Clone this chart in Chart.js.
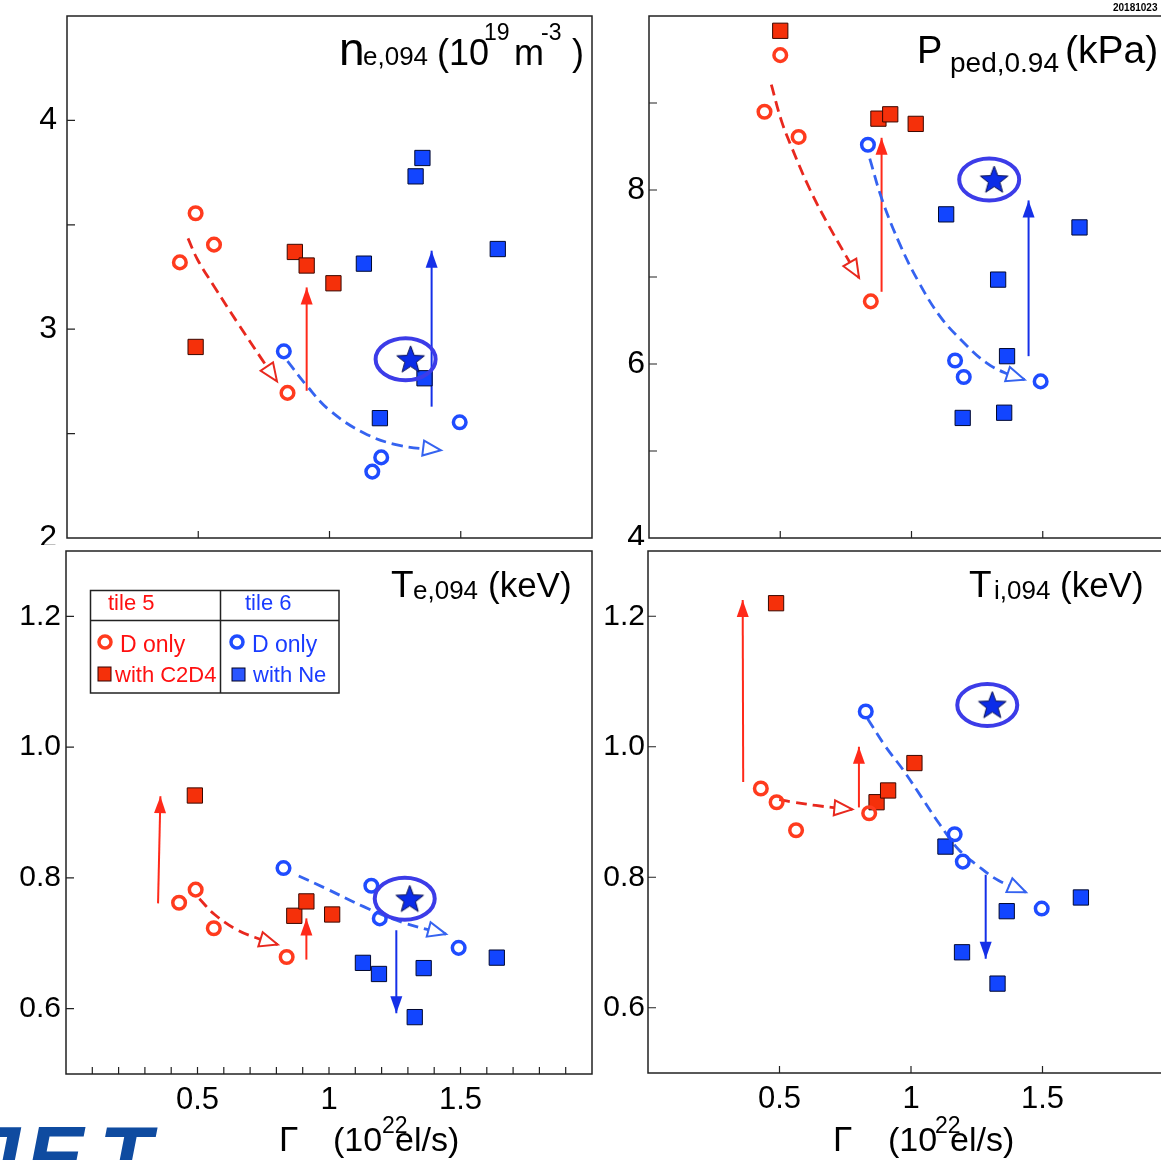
<!DOCTYPE html>
<html>
<head>
<meta charset="utf-8">
<script src="https://cdn.jsdelivr.net/npm/chart.js@4.4.0/dist/chart.umd.min.js"></script>
<style>
  html, body { margin: 0; padding: 0; background: #fff; overflow: hidden; }
  #wrap { position: relative; width: 1161px; height: 1160px; overflow: hidden; }
  canvas { position: absolute; }
</style>
</head>
<body>
<div id="wrap">
  <canvas id="pNe" width="600" height="545" style="left:0;top:0"></canvas>
  <canvas id="pP" width="600" height="545" style="left:590px;top:0"></canvas>
  <canvas id="pTe" width="600" height="615" style="left:0;top:545px"></canvas>
  <canvas id="pTi" width="600" height="615" style="left:590px;top:545px"></canvas>
</div>
<script>
// ---- n_e,094 (top left)
const neRedOpenX = [0.43, 0.49, 0.56, 0.84];
const neRedOpenY = [3.32, 3.555, 3.405, 2.695];
const neRedSqX = [0.49, 0.868, 0.913, 1.015];
const neRedSqY = [2.915, 3.37, 3.305, 3.22];
const neBlueOpenX = [0.826, 1.163, 1.197, 1.496];
const neBlueOpenY = [2.894, 2.318, 2.386, 2.554];
const neBlueSqX = [1.131, 1.328, 1.354, 1.641, 1.192, 1.362];
const neBlueSqY = [3.314, 3.732, 3.82, 3.384, 2.574, 2.765];
const neStar = [1.309, 2.856];
const neRedArrows = [[0.913, 2.705, 0.913, 3.2]];
const neBlueArrows = [[1.389, 2.629, 1.389, 3.376]];
const neRedPathX = [0.461, 0.497, 0.563, 0.65, 0.738, 0.80];
const neRedPathY = [3.435, 3.334, 3.2, 3.03, 2.864, 2.75];
const neBluePathX = [0.84, 0.913, 1.0, 1.131, 1.262, 1.425];
const neBluePathY = [2.847, 2.73, 2.612, 2.503, 2.445, 2.42];

// ---- P_ped,0.94 (top right)
const pRedOpenX = [0.44, 0.50, 0.57, 0.845];
const pRedOpenY = [8.90, 9.55, 8.61, 6.72];
const pRedSqX = [0.50, 0.874, 0.919, 1.016];
const pRedSqY = [9.83, 8.82, 8.87, 8.76];
const pBlueOpenX = [0.834, 1.166, 1.199, 1.492];
const pBlueOpenY = [8.52, 6.04, 5.85, 5.80];
const pBlueSqX = [1.132, 1.64, 1.33, 1.364, 1.195, 1.353];
const pBlueSqY = [7.72, 7.57, 6.97, 6.09, 5.38, 5.44];
const pStar = [1.315, 8.12];
const pRedArrows = [[0.886, 6.83, 0.886, 8.6]];
const pBlueArrows = [[1.446, 6.09, 1.446, 7.88]];
const pRedPathX = [0.466, 0.504, 0.545, 0.614, 0.683, 0.751, 0.80];
const pRedPathY = [9.21, 8.80, 8.48, 8.0, 7.6, 7.24, 6.99];
const pBluePathX = [0.841, 0.889, 0.958, 1.026, 1.108, 1.191, 1.287, 1.37, 1.431];
const pBluePathY = [8.36, 7.88, 7.36, 6.95, 6.55, 6.27, 6.01, 5.88, 5.82];

// ---- T_e,094 (bottom left)
const teRedOpenX = [0.43, 0.493, 0.562, 0.839];
const teRedOpenY = [0.762, 0.782, 0.723, 0.679];
const teRedSqX = [0.49, 0.868, 0.914, 1.012];
const teRedSqY = [0.926, 0.742, 0.764, 0.744];
const teBlueOpenX = [0.827, 1.161, 1.193, 1.493];
const teBlueOpenY = [0.815, 0.788, 0.738, 0.693];
const teBlueSqX = [1.129, 1.19, 1.36, 1.638, 1.326];
const teBlueSqY = [0.670, 0.653, 0.662, 0.678, 0.587];
const teStar = [1.307, 0.768];
const teRedArrows = [[0.35, 0.761, 0.359, 0.925], [0.914, 0.675, 0.914, 0.738]];
const teBlueArrows = [[1.256, 0.72, 1.256, 0.593]];
const teRedPathX = [0.507, 0.565, 0.653, 0.74, 0.805];
const teRedPathY = [0.768, 0.744, 0.72, 0.706, 0.698];
const teBluePathX = [0.885, 0.987, 1.132, 1.278, 1.445];
const teBluePathY = [0.803, 0.784, 0.756, 0.732, 0.714];

// ---- T_i,094 (bottom right)
const tiRedOpenX = [0.429, 0.489, 0.563, 0.841];
const tiRedOpenY = [0.936, 0.915, 0.872, 0.898];
const tiRedSqX = [0.487, 0.869, 0.913, 1.013];
const tiRedSqY = [1.22, 0.915, 0.933, 0.975];
const tiBlueOpenX = [0.828, 1.166, 1.197, 1.497];
const tiBlueOpenY = [1.054, 0.866, 0.824, 0.752];
const tiBlueSqX = [1.131, 1.194, 1.364, 1.646, 1.329];
const tiBlueSqY = [0.847, 0.685, 0.748, 0.769, 0.637];
const tiStar = [1.309, 1.064];
const tiRedArrows = [[0.362, 0.946, 0.36, 1.225], [0.802, 0.907, 0.802, 1.0]];
const tiBlueArrows = [[1.284, 0.804, 1.284, 0.675]];
const tiRedPathX = [0.499, 0.554, 0.638, 0.721, 0.777];
const tiRedPathY = [0.919, 0.915, 0.91, 0.906, 0.904];
const tiBluePathX = [0.835, 0.902, 0.971, 1.041, 1.111, 1.18, 1.25, 1.333, 1.437];
const tiBluePathY = [1.043, 1.001, 0.964, 0.922, 0.88, 0.843, 0.819, 0.795, 0.777];

// axis ticks and labels
const xRange = [0, 2];
const xLabelVals = [0.5, 1, 1.5];
const xMinorVals = [0.1, 0.2, 0.3, 0.4, 0.5, 0.6, 0.7, 0.8, 0.9, 1.0, 1.1, 1.2, 1.3, 1.4, 1.5, 1.6, 1.7, 1.8, 1.9];
const neYRange = [2, 4.5], neYLabels = [2, 3, 4], neYTicks = [2.5, 3, 3.5, 4];
const pYRange = [4, 10], pYLabels = [4, 6, 8], pYTicks = [5, 6, 7, 8, 9];
const tYRange = [0.5, 1.3], tYLabels = [0.6, 0.8, 1.0, 1.2];

const FONTE = "'Liberation Sans', Arial, sans-serif";
const VERMELHO = '#ff3b1e', VERM_QUAD = '#f5300a', AZUL = '#1f4cff', AZUL_QUAD = '#1245ff';
const VERM_SETA = '#ff2a1a', AZUL_SETA = '#1530e8', VERM_TRACO = '#e8281e', AZUL_TRACO = '#3563f0';

function pts(xs, ys) {
  return xs.map((x, i) => ({ x: x, y: ys[i] }));
}

// star marker as a small canvas
function criarEstrela(r) {
  const c = document.createElement('canvas');
  const s = Math.ceil(r * 2 + 4);
  c.width = s; c.height = s;
  const g = c.getContext('2d');
  g.beginPath();
  for (let i = 0; i < 10; i++) {
    const rad = i % 2 === 0 ? r : r * 0.42;
    const ang = -Math.PI / 2 + i * Math.PI / 5;
    const px = s / 2 + rad * Math.cos(ang), py = s / 2 + 1 + rad * Math.sin(ang);
    if (i === 0) g.moveTo(px, py); else g.lineTo(px, py);
  }
  g.closePath();
  g.fillStyle = '#0b2ce8'; g.fill();
  g.strokeStyle = '#0a1050'; g.lineWidth = 1; g.stroke();
  return c;
}
const estrela = criarEstrela(14.5);

// panel layout (chart area in canvas pixels) + texts
const paineis = {
  pNe: {
    area: { left: 67, top: 16, right: 592, bottom: 538 }, w: 600, h: 545,
    yRange: neYRange, yLabels: neYLabels, yTicks: neYTicks, xTicks: xLabelVals, xShow: false,
    yFont: 32, yPad: 10, fmt: v => String(v),
    redOpen: pts(neRedOpenX, neRedOpenY), redSq: pts(neRedSqX, neRedSqY),
    blueOpen: pts(neBlueOpenX, neBlueOpenY), blueSq: pts(neBlueSqX, neBlueSqY),
    star: neStar, redArrows: neRedArrows, blueArrows: neBlueArrows,
    redPath: pts(neRedPathX, neRedPathY), bluePath: pts(neBluePathX, neBluePathY),
    textos: [
      { t: 'n', x: 339, y: 65, s: 46 }, { t: 'e,094', x: 363, y: 65, s: 26 },
      { t: '(10', x: 437, y: 65, s: 36 }, { t: '19', x: 484, y: 40, s: 23 },
      { t: 'm', x: 514, y: 65, s: 36 }, { t: '-3', x: 541, y: 40, s: 23 },
      { t: ')', x: 572, y: 65, s: 36 }
    ]
  },
  pP: {
    area: { left: 59, top: 16, right: 584, bottom: 538 }, w: 600, h: 545,
    yRange: pYRange, yLabels: pYLabels, yTicks: pYTicks, xTicks: xLabelVals, xShow: false,
    yFont: 32, yPad: 4, fmt: v => String(v),
    redOpen: pts(pRedOpenX, pRedOpenY), redSq: pts(pRedSqX, pRedSqY),
    blueOpen: pts(pBlueOpenX, pBlueOpenY), blueSq: pts(pBlueSqX, pBlueSqY),
    star: pStar, redArrows: pRedArrows, blueArrows: pBlueArrows,
    redPath: pts(pRedPathX, pRedPathY), bluePath: pts(pBluePathX, pBluePathY),
    textos: [
      { t: 'P', x: 327, y: 63, s: 38 }, { t: 'ped,0.94', x: 360, y: 72, s: 28 },
      { t: '(kPa)', x: 475, y: 63, s: 39 },
      { t: '20181023', x: 523, y: 11, s: 10, b: true }
    ]
  },
  pTe: {
    area: { left: 66, top: 6, right: 592, bottom: 529 }, w: 600, h: 615,
    yRange: tYRange, yLabels: tYLabels, yTicks: tYLabels, xTicks: xMinorVals, xShow: true,
    yFont: 30, yPad: 5, fmt: v => v.toFixed(1), legenda: true,
    redOpen: pts(teRedOpenX, teRedOpenY), redSq: pts(teRedSqX, teRedSqY),
    blueOpen: pts(teBlueOpenX, teBlueOpenY), blueSq: pts(teBlueSqX, teBlueSqY),
    star: teStar, redArrows: teRedArrows, blueArrows: teBlueArrows,
    redPath: pts(teRedPathX, teRedPathY), bluePath: pts(teBluePathX, teBluePathY),
    textos: [
      { t: 'T', x: 391, y: 52, s: 37 }, { t: 'e,094', x: 413, y: 54, s: 26 },
      { t: '(keV)', x: 488, y: 52, s: 35 },
      { t: 'Γ', x: 279, y: 606, s: 35 }, { t: '(10', x: 333, y: 606, s: 34 },
      { t: '22', x: 382, y: 588, s: 23 }, { t: 'el/s)', x: 395, y: 606, s: 34 }
    ]
  },
  pTi: {
    area: { left: 58, top: 6, right: 584, bottom: 528 }, w: 600, h: 615,
    yRange: tYRange, yLabels: tYLabels, yTicks: tYLabels, xTicks: xLabelVals, xShow: true,
    yFont: 30, yPad: 3, fmt: v => v.toFixed(1),
    redOpen: pts(tiRedOpenX, tiRedOpenY), redSq: pts(tiRedSqX, tiRedSqY),
    blueOpen: pts(tiBlueOpenX, tiBlueOpenY), blueSq: pts(tiBlueSqX, tiBlueSqY),
    star: tiStar, redArrows: tiRedArrows, blueArrows: tiBlueArrows,
    redPath: pts(tiRedPathX, tiRedPathY), bluePath: pts(tiBluePathX, tiBluePathY),
    textos: [
      { t: 'T', x: 379, y: 52, s: 37 }, { t: 'i,094', x: 404, y: 54, s: 26 },
      { t: '(keV)', x: 470, y: 52, s: 35 },
      { t: 'Γ', x: 243, y: 606, s: 35 }, { t: '(10', x: 298, y: 606, s: 34 },
      { t: '22', x: 345, y: 588, s: 23 }, { t: 'el/s)', x: 360, y: 606, s: 34 }
    ]
  }
};

function ponta(ctx, x0, y0, x1, y1, len, half, cor, aberta) {
  const ang = Math.atan2(y1 - y0, x1 - x0);
  ctx.save();
  ctx.translate(x1, y1);
  ctx.rotate(ang);
  ctx.beginPath();
  ctx.moveTo(0, 0);
  ctx.lineTo(-len, -half);
  ctx.lineTo(-len, half);
  ctx.closePath();
  if (aberta) {
    ctx.fillStyle = '#fff'; ctx.fill();
    ctx.setLineDash([]); ctx.lineWidth = 2; ctx.strokeStyle = cor; ctx.stroke();
  } else {
    ctx.fillStyle = cor; ctx.fill();
  }
  ctx.restore();
}

function desenharLegenda(ctx) {
  ctx.strokeStyle = '#222'; ctx.lineWidth = 1.5;
  ctx.strokeRect(90.5, 45.5, 248.5, 102.5);
  ctx.beginPath();
  ctx.moveTo(90.5, 75.5); ctx.lineTo(339, 75.5);
  ctx.moveTo(220.5, 45.5); ctx.lineTo(220.5, 148);
  ctx.stroke();
  ctx.textBaseline = 'alphabetic';
  ctx.font = '22px ' + FONTE;
  ctx.fillStyle = '#ff1010'; ctx.fillText('tile 5', 108, 65);
  ctx.fillStyle = '#1a3cff'; ctx.fillText('tile 6', 245, 65);
  ctx.font = '23px ' + FONTE;
  ctx.fillStyle = '#ff1010'; ctx.fillText('D only', 120, 107);
  ctx.font = '22px ' + FONTE; ctx.fillText('with C2D4', 115, 137);
  ctx.fillStyle = '#1a3cff';
  ctx.font = '23px ' + FONTE; ctx.fillText('D only', 252, 107);
  ctx.font = '22px ' + FONTE; ctx.fillText('with Ne', 253, 137);
  // markers of the table
  ctx.lineWidth = 3.5;
  ctx.strokeStyle = VERMELHO; ctx.beginPath(); ctx.arc(105, 97, 6, 0, Math.PI * 2); ctx.stroke();
  ctx.strokeStyle = AZUL; ctx.beginPath(); ctx.arc(237, 97, 6, 0, Math.PI * 2); ctx.stroke();
  ctx.lineWidth = 1;
  ctx.fillStyle = VERM_QUAD; ctx.fillRect(98, 122, 13, 14);
  ctx.strokeStyle = '#300'; ctx.strokeRect(98, 122, 13, 14);
  ctx.fillStyle = '#2a55ff'; ctx.fillRect(232, 123, 13, 13);
  ctx.strokeStyle = '#002'; ctx.strokeRect(232, 123, 13, 13);
  // JET logo, cut by the page border
  ctx.fillStyle = '#0f4ba0';
  ctx.font = 'italic bold 86px ' + FONTE;
  ctx.fillText('J', -28, 641);
  ctx.fillText('E', 26, 641);
  ctx.fillText('T', 99, 641);
}

const decor = {
  id: 'decor',
  afterDatasetsDraw(chart) {
    const p = paineis[chart.canvas.id];
    const ctx = chart.ctx, xs = chart.scales.x, ys = chart.scales.y, a = chart.chartArea;
    const px = v => xs.getPixelForValue(v), py = v => ys.getPixelForValue(v);
    ctx.save();
    // arrow heads
    p.redArrows.forEach(r => ponta(ctx, px(r[0]), py(r[1]), px(r[2]), py(r[3]), 17, 6, VERM_SETA, false));
    p.blueArrows.forEach(r => ponta(ctx, px(r[0]), py(r[1]), px(r[2]), py(r[3]), 17, 6, AZUL_SETA, false));
    [[p.redPath, VERM_TRACO], [p.bluePath, AZUL_TRACO]].forEach(c => {
      const n = c[0].length;
      const q0 = c[0][n - 2], q1 = c[0][n - 1];
      ponta(ctx, px(q0.x), py(q0.y), px(q1.x), py(q1.y), 18, 7.5, c[1], true);
    });
    // ellipse round the star
    ctx.beginPath();
    ctx.ellipse(px(p.star[0]) - 5, py(p.star[1]), 30, 21, 0, 0, Math.PI * 2);
    ctx.lineWidth = 4; ctx.strokeStyle = '#3c3ce8'; ctx.stroke();
    // frame
    ctx.lineWidth = 1.5; ctx.strokeStyle = '#222';
    ctx.strokeRect(a.left, a.top, a.right - a.left, a.bottom - a.top);
    // inward ticks
    ctx.beginPath();
    p.yTicks.forEach(v => { ctx.moveTo(a.left, py(v)); ctx.lineTo(a.left + 8, py(v)); });
    p.xTicks.forEach(v => { ctx.moveTo(px(v), a.bottom); ctx.lineTo(px(v), a.bottom - 7); });
    ctx.lineWidth = 1.2; ctx.stroke();
    // titles
    ctx.fillStyle = '#000'; ctx.textBaseline = 'alphabetic';
    p.textos.forEach(r => {
      ctx.font = (r.b ? 'bold ' : '') + r.s + 'px ' + FONTE;
      ctx.fillText(r.t, r.x, r.y);
    });
    if (p.legenda) desenharLegenda(ctx);
    ctx.restore();
  }
};

function criarPainel(id) {
  const p = paineis[id];
  const linha = (data, cor, extra) => Object.assign({
    type: 'line', data: data, borderColor: cor, borderWidth: 2, pointRadius: 0,
    showLine: true, fill: false, order: 2
  }, extra || {});
  const datasets = [
    { data: p.redOpen, pointStyle: 'circle', pointRadius: 6.3, borderWidth: 3.5, borderColor: VERMELHO, backgroundColor: 'rgba(0,0,0,0)', order: 1 },
    { data: p.redSq, pointStyle: 'rect', pointRadius: 10.8, borderWidth: 1, borderColor: '#3a0800', backgroundColor: VERM_QUAD, order: 1 },
    { data: p.blueOpen, pointStyle: 'circle', pointRadius: 6.3, borderWidth: 3.5, borderColor: AZUL, backgroundColor: 'rgba(0,0,0,0)', order: 1 },
    { data: p.blueSq, pointStyle: 'rect', pointRadius: 10.8, borderWidth: 1, borderColor: '#000830', backgroundColor: AZUL_QUAD, order: 1 },
    { data: [{ x: p.star[0], y: p.star[1] }], pointStyle: estrela, pointRadius: 14, order: 0 },
    linha(p.redPath, VERM_TRACO, { borderDash: [11, 6], borderWidth: 2.8, tension: 0.4 }),
    linha(p.bluePath, AZUL_TRACO, { borderDash: [11, 6], borderWidth: 2.8, tension: 0.4 })
  ];
  p.redArrows.forEach(r => datasets.push(linha([{ x: r[0], y: r[1] }, { x: r[2], y: r[3] }], VERM_SETA)));
  p.blueArrows.forEach(r => datasets.push(linha([{ x: r[0], y: r[1] }, { x: r[2], y: r[3] }], AZUL_SETA)));

  new Chart(document.getElementById(id), {
    type: 'scatter',
    data: { datasets: datasets },
    options: {
      responsive: false,
      animation: false,
      devicePixelRatio: 1,
      layout: { autoPadding: false, padding: { left: 0, top: p.area.top, right: p.w - p.area.right, bottom: 0 } },
      plugins: { legend: { display: false }, tooltip: { enabled: false } },
      scales: {
        x: {
          type: 'linear', min: xRange[0], max: xRange[1],
          grid: { display: false, drawTicks: false }, border: { display: false },
          afterBuildTicks: s => { s.ticks = xLabelVals.map(v => ({ value: v })); },
          afterFit: s => { s.height = p.h - p.area.bottom; s.paddingLeft = 0; s.paddingRight = 0; },
          ticks: { display: p.xShow, autoSkip: false, maxRotation: 0, padding: 8, color: '#000', font: { size: 31, family: FONTE }, callback: v => String(v) }
        },
        y: {
          type: 'linear', min: p.yRange[0], max: p.yRange[1],
          grid: { display: false, drawTicks: false }, border: { display: false },
          afterBuildTicks: s => { s.ticks = p.yLabels.map(v => ({ value: v })); },
          afterFit: s => { s.width = p.area.left; s.paddingTop = 0; s.paddingBottom = 0; },
          ticks: { autoSkip: false, padding: p.yPad, color: '#000', font: { size: p.yFont, family: FONTE }, callback: v => p.fmt(v) }
        }
      }
    },
    plugins: [decor]
  });
}

criarPainel('pNe');
criarPainel('pP');
criarPainel('pTe');
criarPainel('pTi');
</script>
</body>
</html>
